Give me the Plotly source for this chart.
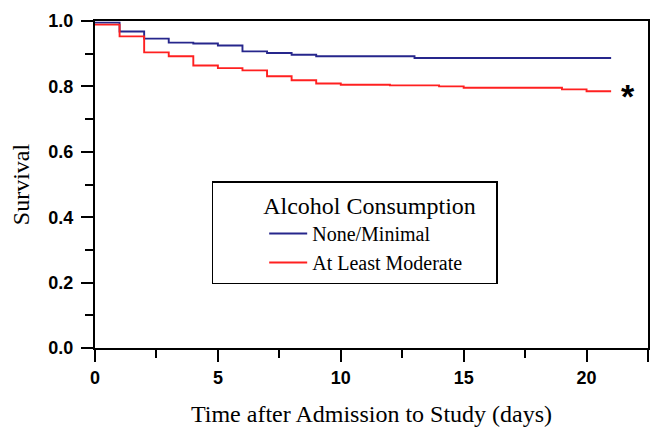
import plotly.graph_objects as go

# Kaplan-Meier style survival data
days_none = [0, 1, 2, 3, 4, 5, 6, 7, 8, 9, 13, 21]
surv_none = [0.995, 0.968, 0.946, 0.934, 0.931, 0.925, 0.907, 0.902, 0.897, 0.892, 0.887, 0.887]

days_mod = [0, 1, 2, 3, 4, 5, 6, 7, 8, 9, 10, 12, 14, 15, 19, 20, 21]
surv_mod = [0.989, 0.953, 0.904, 0.892, 0.864, 0.856, 0.849, 0.831, 0.819, 0.809, 0.805, 0.803,
            0.800, 0.796, 0.791, 0.785, 0.785]

series_names = ["None/Minimal", "At Least Moderate"]
x_tickvals = [0, 5, 10, 15, 20, 22.5]
x_ticktext = ["0", "5", "10", "15", "20", ""]
y_tickvals = [0.0, 0.2, 0.4, 0.6, 0.8, 1.0]
y_ticktext = ["0.0", "0.2", "0.4", "0.6", "0.8", "1.0"]

BLUE = "#26268c"
RED = "#ff2020"
SERIF = "Liberation Serif"
SANS = "Liberation Sans"

fig = go.Figure()
fig.add_trace(go.Scatter(x=days_none, y=surv_none, mode="lines", line_shape="hv",
                         line=dict(color=BLUE, width=1.9), name=series_names[0]))
fig.add_trace(go.Scatter(x=days_mod, y=surv_mod, mode="lines", line_shape="hv",
                         line=dict(color=RED, width=1.9), name=series_names[1]))

fig.add_annotation(x=21.7, y=0.772, xref="x", yref="y", text="<b>*</b>", showarrow=False,
                   font=dict(family=SANS, size=34, color="black"), xanchor="center", yanchor="middle")

axis_common = dict(showgrid=False, zeroline=False, showline=True, linecolor="black", linewidth=2,
                   mirror=True, ticks="outside", tickcolor="black", tickwidth=1.6, ticklen=12,
                   automargin=False,
                   tickfont=dict(family=SANS, size=18, color="black", weight="bold"))

fig.update_xaxes(**axis_common, range=[0, 22.5], tickvals=x_tickvals, ticktext=x_ticktext,
                 minor=dict(dtick=2.5, tick0=0, ticks="outside", ticklen=8, tickcolor="black", tickwidth=1.6),
                 ticklabelstandoff=0,
                 title=dict(text="Time after Admission to Study (days)", standoff=22,
                            font=dict(family=SERIF, size=24, color="black")))
fig.update_yaxes(**axis_common, range=[0, 1.0], tickvals=y_tickvals, ticktext=y_ticktext,
                 minor=dict(dtick=0.1, tick0=0, ticks="outside", ticklen=8, tickcolor="black", tickwidth=1.6),
                 ticklabelstandoff=4,
                 title=dict(text="Survival", standoff=12,
                            font=dict(family=SERIF, size=24, color="black")))

fig.update_layout(
    width=652, height=427,
    margin=dict(l=95, r=4, t=21, b=79),
    plot_bgcolor="white", paper_bgcolor="white",
    showlegend=True,
    legend=dict(x=0.211, y=0.51, xanchor="left", yanchor="top",
                bordercolor="black", borderwidth=1.5, bgcolor="white",
                font=dict(family=SERIF, size=20, color="black"),
                indentation=51, itemwidth=38,
                title=dict(text="\u00a0" * 8 + "Alcohol Consumption" + "\u00a0" * 3,
                           font=dict(family=SERIF, size=24, color="black"), side="top")),
)

fig.write_html("out.html", config={"displayModeBar": False},
               post_script="document.body.style.margin='0';document.body.style.padding='0';"
                           "document.documentElement.style.overflow='hidden';")
